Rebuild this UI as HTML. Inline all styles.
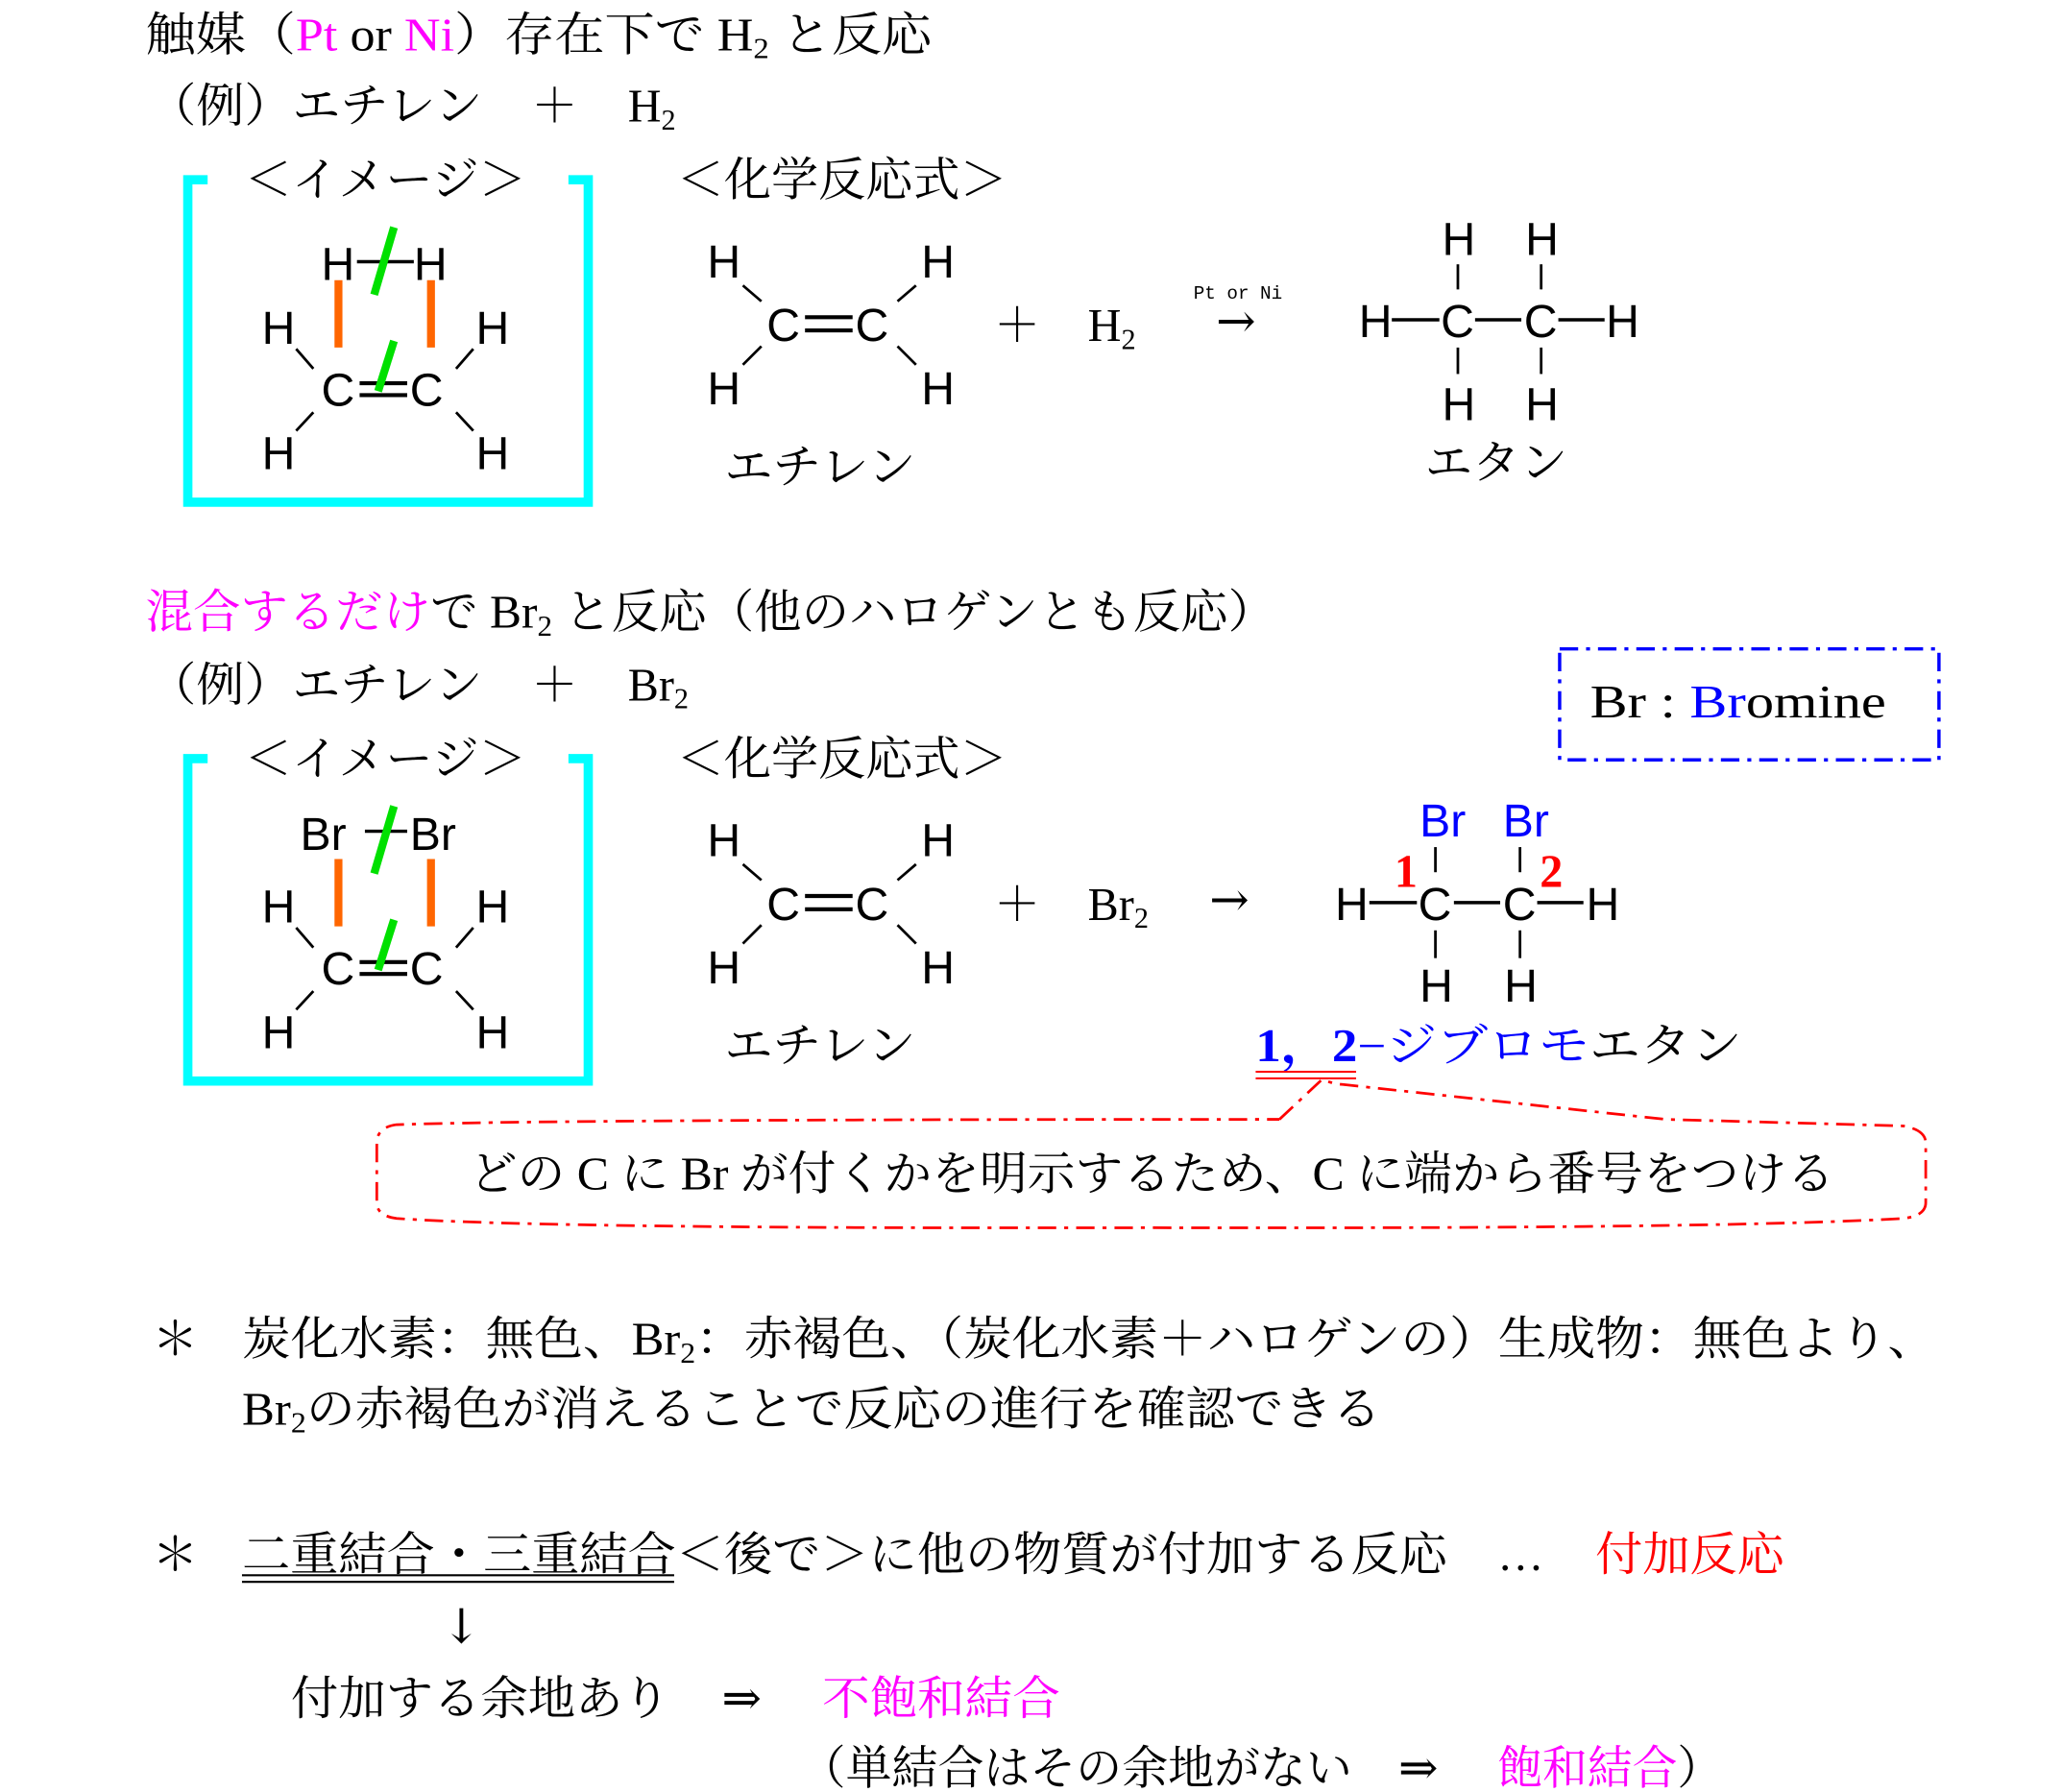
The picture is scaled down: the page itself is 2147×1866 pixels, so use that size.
<!DOCTYPE html>
<html><head><meta charset="utf-8"><style>
html,body{margin:0;padding:0;background:#fff;}
svg{display:block}
.t{font-family:"Liberation Serif","Noto Serif CJK SC",serif;font-size:35px;fill:#000}
.m{font-family:"Liberation Sans",sans-serif;font-size:35px;fill:#000}
.ar{font-family:"DejaVu Serif",serif;font-size:36px;fill:#000}
.mag{fill:#ff00ff}.red{fill:#ff0000}.blue{fill:#0000ff}
</style></head><body>
<svg width="2147" height="1866" viewBox="0 0 1560 1356" xmlns="http://www.w3.org/2000/svg">
<!-- Section 1 -->
<text class="t" x="110" y="38" textLength="595" lengthAdjust="spacingAndGlyphs">触媒（<tspan class="mag">Pt</tspan> or <tspan class="mag">Ni</tspan>）存在下で H<tspan font-size="22" dy="6">2</tspan><tspan dy="-6"> と反応</tspan></text>
<text class="t" x="112" y="92" textLength="253" lengthAdjust="spacingAndGlyphs">（例）エチレン</text>
<text class="t" x="402" y="92">＋</text>
<text class="t" x="475" y="92">H<tspan font-size="22" dy="6">2</tspan></text>

<g id="sec1">
<path d="M157,136 H142 V380 H445 V136 H430" fill="none" stroke="#00ffff" stroke-width="7"/>
<text class="t" x="185" y="148" textLength="213" lengthAdjust="spacingAndGlyphs">＜イメージ＞</text>
<text class="t" x="512" y="148" textLength="250" lengthAdjust="spacingAndGlyphs">＜化学反応式＞</text>
<text class="m" x="243" y="212">H</text><text class="m" x="313" y="212">H</text>
<line x1="270" y1="198" x2="313" y2="198" stroke="#000" stroke-width="2.5"/>
<line x1="298" y1="172" x2="283" y2="223" stroke="#00e000" stroke-width="6"/>
<line x1="256" y1="212" x2="256" y2="263" stroke="#ff6600" stroke-width="6"/>
<line x1="326" y1="212" x2="326" y2="263" stroke="#ff6600" stroke-width="6"/>
<text class="m" x="198" y="260">H</text><text class="m" x="360" y="260">H</text>
<text class="m" x="243" y="307">C</text><text class="m" x="310" y="307">C</text>
<line x1="272" y1="290" x2="308" y2="290" stroke="#000" stroke-width="3"/>
<line x1="272" y1="299" x2="308" y2="299" stroke="#000" stroke-width="3"/>
<line x1="298" y1="258" x2="286" y2="296" stroke="#00e000" stroke-width="6"/>
<line x1="224" y1="264" x2="237" y2="279" stroke="#000" stroke-width="2"/>
<line x1="358" y1="264" x2="345" y2="279" stroke="#000" stroke-width="2"/>
<line x1="237" y1="312" x2="224" y2="326" stroke="#000" stroke-width="2"/>
<line x1="345" y1="312" x2="358" y2="326" stroke="#000" stroke-width="2"/>
<text class="m" x="198" y="355">H</text><text class="m" x="360" y="355">H</text>
<text class="m" x="535" y="210">H</text><text class="m" x="697" y="210">H</text>
<text class="m" x="580" y="258">C</text><text class="m" x="647" y="258">C</text>
<line x1="609" y1="240" x2="645" y2="240" stroke="#000" stroke-width="3"/>
<line x1="609" y1="250" x2="645" y2="250" stroke="#000" stroke-width="3"/>
<line x1="562" y1="216" x2="576" y2="228" stroke="#000" stroke-width="2"/>
<line x1="693" y1="216" x2="679" y2="228" stroke="#000" stroke-width="2"/>
<line x1="576" y1="262" x2="562" y2="276" stroke="#000" stroke-width="2"/>
<line x1="679" y1="262" x2="693" y2="276" stroke="#000" stroke-width="2"/>
<text class="m" x="535" y="306">H</text><text class="m" x="697" y="306">H</text>
<text class="t" x="548" y="365" textLength="145" lengthAdjust="spacingAndGlyphs">エチレン</text>
<text class="t" x="752" y="258">＋</text>
</g>
<text class="t" x="823" y="258">H<tspan font-size="22" dy="6">2</tspan></text>
<text x="903" y="226" font-family="Liberation Mono,monospace" font-size="14">Pt or Ni</text>
<text class="ar" x="920" y="255">→</text>
<!-- ethane -->
<text class="m" x="1091" y="193">H</text><text class="m" x="1154" y="193">H</text>
<text class="m" x="1028" y="255">H</text><text class="m" x="1090" y="255">C</text><text class="m" x="1153" y="255">C</text><text class="m" x="1215" y="255">H</text>
<text class="m" x="1091" y="318">H</text><text class="m" x="1154" y="318">H</text>
<g stroke="#000" stroke-width="2.5">
<line x1="1053" y1="242" x2="1089" y2="242"/><line x1="1116" y1="242" x2="1151" y2="242"/><line x1="1179" y1="242" x2="1214" y2="242"/>
<line x1="1103" y1="200" x2="1103" y2="219" stroke-width="2"/><line x1="1166" y1="200" x2="1166" y2="219" stroke-width="2"/>
<line x1="1103" y1="263" x2="1103" y2="283" stroke-width="2"/><line x1="1166" y1="263" x2="1166" y2="283" stroke-width="2"/>
</g>
<text class="t" x="1078" y="362" textLength="108" lengthAdjust="spacingAndGlyphs">エタン</text>

<!-- Section 2 -->
<text class="t" x="110" y="475" textLength="855" lengthAdjust="spacingAndGlyphs"><tspan class="mag">混合するだけ</tspan>で Br<tspan font-size="22" dy="6">2</tspan><tspan dy="-6"> と反応（他のハロゲンとも反応）</tspan></text>
<text class="t" x="112" y="530" textLength="253" lengthAdjust="spacingAndGlyphs">（例）エチレン</text>
<text class="t" x="402" y="530">＋</text>
<text class="t" x="475" y="530">Br<tspan font-size="22" dy="6">2</tspan></text>
<rect x="1180" y="491" width="287" height="84" fill="none" stroke="#0000ff" stroke-width="2.5" stroke-dasharray="14,6,3,6"/>
<text class="t" x="1203" y="543" font-size="37" textLength="224" lengthAdjust="spacingAndGlyphs">Br : <tspan class="blue">Br</tspan>omine</text>

<g transform="translate(0,438)">
<path d="M157,136 H142 V380 H445 V136 H430" fill="none" stroke="#00ffff" stroke-width="7"/>
<text class="t" x="185" y="148" textLength="213" lengthAdjust="spacingAndGlyphs">＜イメージ＞</text>
<text class="t" x="512" y="148" textLength="250" lengthAdjust="spacingAndGlyphs">＜化学反応式＞</text>
<text class="m" x="227" y="205">Br</text><text class="m" x="310" y="205">Br</text>
<line x1="276" y1="191" x2="308" y2="191" stroke="#000" stroke-width="2.5"/>
<line x1="298" y1="172" x2="283" y2="223" stroke="#00e000" stroke-width="6"/>
<line x1="256" y1="212" x2="256" y2="263" stroke="#ff6600" stroke-width="6"/>
<line x1="326" y1="212" x2="326" y2="263" stroke="#ff6600" stroke-width="6"/>
<text class="m" x="198" y="260">H</text><text class="m" x="360" y="260">H</text>
<text class="m" x="243" y="307">C</text><text class="m" x="310" y="307">C</text>
<line x1="272" y1="290" x2="308" y2="290" stroke="#000" stroke-width="3"/>
<line x1="272" y1="299" x2="308" y2="299" stroke="#000" stroke-width="3"/>
<line x1="298" y1="258" x2="286" y2="296" stroke="#00e000" stroke-width="6"/>
<line x1="224" y1="264" x2="237" y2="279" stroke="#000" stroke-width="2"/>
<line x1="358" y1="264" x2="345" y2="279" stroke="#000" stroke-width="2"/>
<line x1="237" y1="312" x2="224" y2="326" stroke="#000" stroke-width="2"/>
<line x1="345" y1="312" x2="358" y2="326" stroke="#000" stroke-width="2"/>
<text class="m" x="198" y="355">H</text><text class="m" x="360" y="355">H</text>
<text class="m" x="535" y="210">H</text><text class="m" x="697" y="210">H</text>
<text class="m" x="580" y="258">C</text><text class="m" x="647" y="258">C</text>
<line x1="609" y1="240" x2="645" y2="240" stroke="#000" stroke-width="3"/>
<line x1="609" y1="250" x2="645" y2="250" stroke="#000" stroke-width="3"/>
<line x1="562" y1="216" x2="576" y2="228" stroke="#000" stroke-width="2"/>
<line x1="693" y1="216" x2="679" y2="228" stroke="#000" stroke-width="2"/>
<line x1="576" y1="262" x2="562" y2="276" stroke="#000" stroke-width="2"/>
<line x1="679" y1="262" x2="693" y2="276" stroke="#000" stroke-width="2"/>
<text class="m" x="535" y="306">H</text><text class="m" x="697" y="306">H</text>
<text class="t" x="548" y="365" textLength="145" lengthAdjust="spacingAndGlyphs">エチレン</text>
<text class="t" x="752" y="258">＋</text>
<text class="t" x="823" y="258">Br<tspan font-size="22" dy="6">2</tspan></text>
<text class="ar" x="915" y="255">→</text>
</g>
<!-- dibromoethane -->
<text class="m blue" x="1074" y="633">Br</text><text class="m blue" x="1137" y="633">Br</text>
<text class="m" x="1010" y="696">H</text><text class="m" x="1073" y="696">C</text><text class="m" x="1137" y="696">C</text><text class="m" x="1200" y="696">H</text>
<text class="m" x="1074" y="758">H</text><text class="m" x="1138" y="758">H</text>
<text class="t red" x="1055" y="671" font-weight="bold">1</text>
<text class="t red" x="1165" y="671" font-weight="bold">2</text>
<g stroke="#000" stroke-width="2.5">
<line x1="1036" y1="683" x2="1072" y2="683"/><line x1="1100" y1="683" x2="1135" y2="683"/><line x1="1163" y1="683" x2="1198" y2="683"/>
<line x1="1086" y1="641" x2="1086" y2="660" stroke-width="2"/><line x1="1150" y1="641" x2="1150" y2="660" stroke-width="2"/>
<line x1="1086" y1="704" x2="1086" y2="725" stroke-width="2"/><line x1="1150" y1="704" x2="1150" y2="725" stroke-width="2"/>
</g>
<text class="t" x="950" y="803" textLength="368" lengthAdjust="spacingAndGlyphs"><tspan class="blue" font-weight="bold">1，2</tspan><tspan class="blue">−ジブロモ</tspan>エタン</text>
<line x1="950" y1="811" x2="1026" y2="811" stroke="#f00" stroke-width="1.5"/>
<line x1="950" y1="816" x2="1026" y2="816" stroke="#f00" stroke-width="1.5"/>
<path d="M968,847 L1000,817 L1010,820 L1260,847 L1440,852 Q1457,855 1457,865 V910 Q1457,920 1440,922 Q1300,930 870,929 Q420,930 300,922 Q285,920 285,910 V865 Q285,853 300,851 Q420,847 968,847" fill="none" stroke="#f00" stroke-width="2" stroke-dasharray="14,6,3,6"/>
<text class="t" x="355" y="900" textLength="1033" lengthAdjust="spacingAndGlyphs">どの C に Br が付くかを明示するため、C に端から番号をつける</text>

<!-- Bottom -->
<text class="t" x="115" y="1025">＊</text>
<text class="t" x="183" y="1025" textLength="1282" lengthAdjust="spacingAndGlyphs">炭化水素：無色、Br<tspan font-size="22" dy="6">2</tspan><tspan dy="-6">：赤褐色、（炭化水素＋ハロゲンの）生成物：無色より、</tspan></text>
<text class="t" x="183" y="1078" textLength="862" lengthAdjust="spacingAndGlyphs">Br<tspan font-size="22" dy="6">2</tspan><tspan dy="-6">の赤褐色が消えることで反応の進行を確認できる</tspan></text>
<text class="t" x="115" y="1188">＊</text>
<text class="t" x="183" y="1188" textLength="912" lengthAdjust="spacingAndGlyphs">二重結合・三重結合＜後で＞に他の物質が付加する反応</text>
<text class="t" x="1133" y="1188">…</text>
<line x1="183" y1="1192" x2="510" y2="1192" stroke="#000" stroke-width="1.5"/>
<line x1="183" y1="1197" x2="510" y2="1197" stroke="#000" stroke-width="1.5"/>
<text class="t red" x="1207" y="1188" textLength="143" lengthAdjust="spacingAndGlyphs">付加反応</text>
<text class="ar" x="334" y="1243">↓</text>
<text class="t" x="220" y="1297" textLength="287" lengthAdjust="spacingAndGlyphs">付加する余地あり</text>
<text class="ar" x="546" y="1297">⇒</text>
<text class="t mag" x="622" y="1297" textLength="180" lengthAdjust="spacingAndGlyphs">不飽和結合</text>
<text class="t" x="605" y="1350" textLength="418" lengthAdjust="spacingAndGlyphs">（単結合はその余地がない</text>
<text class="ar" x="1058" y="1350">⇒</text>
<text class="t" x="1133" y="1350" textLength="170" lengthAdjust="spacingAndGlyphs"><tspan class="mag">飽和結合</tspan>）</text>
</svg>
</body></html>
